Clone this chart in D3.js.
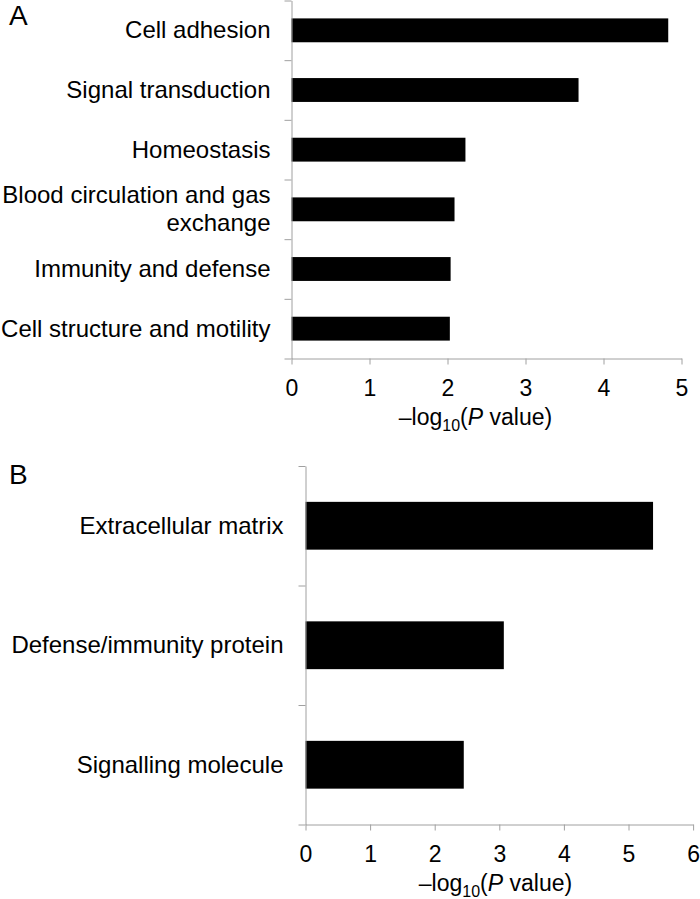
<!DOCTYPE html>
<html>
<head>
<meta charset="utf-8">
<script src="https://cdn.jsdelivr.net/npm/d3@7"></script>
<style>
  body { margin: 0; background: #fff; }
  svg { font-family: "Liberation Sans", Arial, sans-serif; }
  .axis path, .axis line { stroke: #a0a0a0; }
</style>
</head>
<body>
<script>
// panel A: biological process
var catsA = ["Cell adhesion", "Signal transduction", "Homeostasis",
             "Blood circulation and gas\nexchange", "Immunity and defense",
             "Cell structure and motility"];
var valsA = [4.83, 3.68, 2.23, 2.09, 2.04, 2.03];
var ticksA = [0, 1, 2, 3, 4, 5];

// panel B: molecular function
var catsB = ["Extracellular matrix", "Defense/immunity protein", "Signalling molecule"];
var valsB = [5.38, 3.07, 2.45];
var ticksB = [0, 1, 2, 3, 4, 5, 6];

var svg = d3.select("body").append("svg")
    .attr("width", 700)
    .attr("height", 899);

function panel(opts) {
    var g = svg.append("g")
        .attr("transform", "translate(" + opts.left + "," + opts.top + ")");

    var x = d3.scaleLinear()
        .domain([0, d3.max(opts.ticks)])
        .range([0, opts.width]);

    var y = d3.scaleBand()
        .domain(opts.cats)
        .range([0, opts.height])
        .paddingInner(0.6)
        .paddingOuter(0.3);

    // band boundaries for the category ticks
    var yb = d3.scaleLinear()
        .domain([0, opts.cats.length])
        .range([0, opts.height]);

    // bars
    g.selectAll("rect.bar")
        .data(opts.vals)
      .enter().append("rect")
        .attr("class", "bar")
        .attr("x", 0)
        .attr("y", function(d, i) { return y(opts.cats[i]); })
        .attr("width", function(d) { return x(d); })
        .attr("height", y.bandwidth())
        .attr("fill", "#000");

    // y axis (ticks between categories)
    g.append("g")
        .attr("class", "axis")
        .call(d3.axisLeft(yb)
            .tickValues(d3.range(opts.cats.length + 1))
            .tickFormat("")
            .tickSize(7)
            .tickSizeOuter(0));

    // x axis
    var xAxis = g.append("g")
        .attr("class", "axis")
        .attr("transform", "translate(0," + opts.height + ")")
        .call(d3.axisBottom(x)
            .tickValues(opts.ticks)
            .tickFormat(d3.format("d"))
            .tickSize(6)
            .tickPadding(15)
            .tickSizeOuter(0));
    xAxis.selectAll("text")
        .attr("font-size", 23)
        .attr("font-family", "Liberation Sans, Arial, sans-serif")
        .attr("fill", "#000");

    // category labels
    var lab = g.selectAll("text.cat")
        .data(opts.cats)
      .enter().append("text")
        .attr("class", "cat")
        .attr("text-anchor", "end")
        .attr("font-size", 24)
        .attr("fill", "#000")
        .attr("transform", function(d) {
            return "translate(" + (-opts.labelGap) + "," + (y(d) + y.bandwidth() / 2) + ")";
        });
    lab.each(function(d) {
        var lines = d.split("\n");
        var t = d3.select(this);
        lines.forEach(function(s, k) {
            t.append("tspan")
                .attr("x", 0)
                .attr("y", 8 + (k - (lines.length - 1) / 2) * 28)
                .text(s);
        });
    });

    // axis title
    var title = g.append("text")
        .attr("x", opts.titleX)
        .attr("y", opts.height + 66)
        .attr("text-anchor", "middle")
        .attr("font-size", 23)
        .attr("fill", "#000");
    title.append("tspan").text("\u2013log");
    title.append("tspan").attr("font-size", 16).attr("dy", 6).text("10");
    title.append("tspan").attr("dy", -6).text("(");
    title.append("tspan").attr("font-style", "italic").text("P");
    title.append("tspan").text(" value)");

    // panel letter
    svg.append("text")
        .attr("x", 9)
        .attr("y", opts.top + opts.letterY)
        .attr("font-size", 28)
        .attr("fill", "#000")
        .text(opts.letter);
}

panel({
    letter: "A", letterY: 24,
    cats: catsA, vals: valsA, ticks: ticksA,
    left: 291.5, top: 0.5, width: 390, height: 358,
    labelGap: 21, titleX: 184
});

panel({
    letter: "B", letterY: 18,
    cats: catsB, vals: valsB, ticks: ticksB,
    left: 305.5, top: 466, width: 387.6, height: 358.5,
    labelGap: 22, titleX: 190
});
</script>
</body>
</html>
